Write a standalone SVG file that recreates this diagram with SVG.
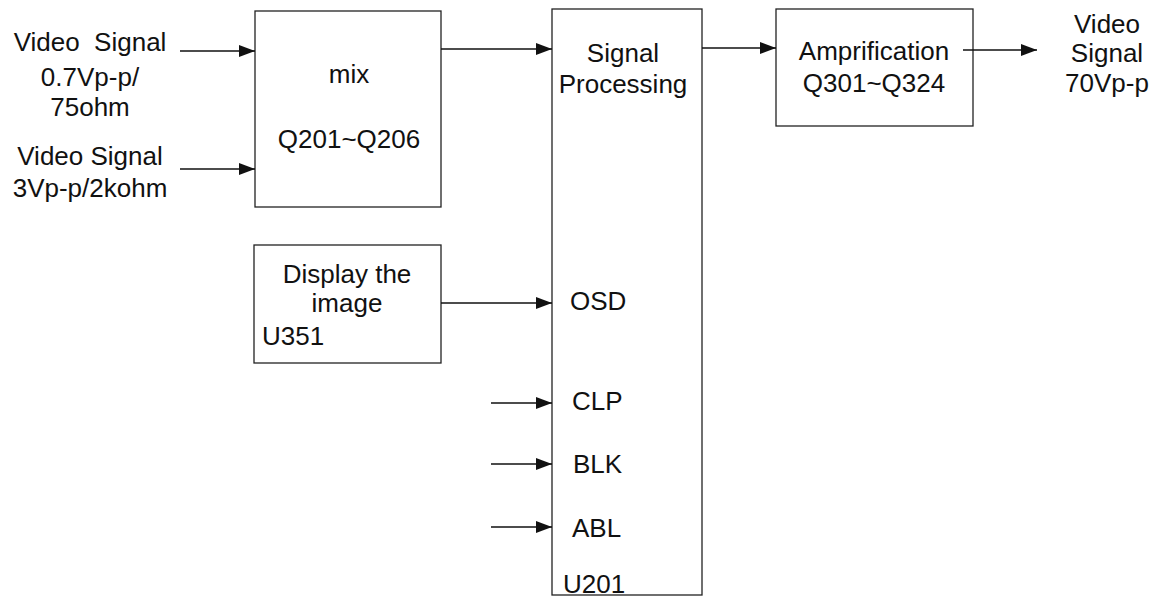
<svg xmlns="http://www.w3.org/2000/svg" width="1158" height="597" viewBox="0 0 1158 597">
<style>
text{font-family:"Liberation Sans",Arial,sans-serif;font-size:26px;fill:#111}
.c{text-anchor:middle}
.box{fill:none;stroke:#222;stroke-width:1.3}
.ln{stroke:#111;stroke-width:1.6;fill:none;marker-end:url(#ah)}
</style>
<defs>
<marker id="ah" markerWidth="16" markerHeight="12" refX="16" refY="6" orient="auto" markerUnits="userSpaceOnUse">
<path d="M0,0 L16,6 L0,12 Z" fill="#111"/>
</marker>
</defs>
<rect width="1158" height="597" fill="#fff"/>
<g id="input1">
<text class="c" x="90" y="51" xml:space="preserve">Video  Signal</text>
<text class="c" x="90" y="86">0.7Vp-p/</text>
<text class="c" x="90" y="116">75ohm</text>
</g>
<g id="input2">
<text class="c" x="90" y="165">Video Signal</text>
<text class="c" x="90" y="197">3Vp-p/2kohm</text>
</g>
<g id="mix">
<rect class="box" x="255" y="11" width="186" height="196"/>
<text class="c" x="349" y="83">mix</text>
<text class="c" x="349" y="148">Q201~Q206</text>
</g>
<g id="display">
<rect class="box" x="254" y="245" width="187" height="118"/>
<text class="c" x="347" y="283">Display the</text>
<text class="c" x="347" y="312">image</text>
<text x="262" y="345">U351</text>
</g>
<g id="signal-processing">
<rect class="box" x="552" y="9" width="150" height="586"/>
<text class="c" x="623" y="62">Signal</text>
<text class="c" x="623" y="93">Processing</text>
<text x="570" y="310">OSD</text>
<text x="572" y="410">CLP</text>
<text x="573" y="473">BLK</text>
<text x="572" y="537">ABL</text>
<text x="563" y="593">U201</text>
</g>
<g id="amplification">
<rect class="box" x="776" y="9" width="197" height="117"/>
<text class="c" x="874" y="60">Amprification</text>
<text class="c" x="874" y="92">Q301~Q324</text>
</g>
<g id="output">
<text class="c" x="1107" y="33">Video</text>
<text class="c" x="1107" y="62">Signal</text>
<text class="c" x="1107" y="92">70Vp-p</text>
</g>
<g id="connectors">
<line class="ln" x1="180" y1="51" x2="255" y2="51"/>
<line class="ln" x1="180" y1="169" x2="255" y2="169"/>
<line class="ln" x1="441" y1="49" x2="552" y2="49"/>
<line class="ln" x1="702" y1="48" x2="776" y2="48"/>
<line class="ln" x1="963" y1="50" x2="1037" y2="50"/>
<line class="ln" x1="441" y1="303" x2="552" y2="303"/>
<line class="ln" x1="491" y1="403" x2="552" y2="403"/>
<line class="ln" x1="491" y1="464" x2="552" y2="464"/>
<line class="ln" x1="491" y1="527" x2="552" y2="527"/>
</g>
</svg>
